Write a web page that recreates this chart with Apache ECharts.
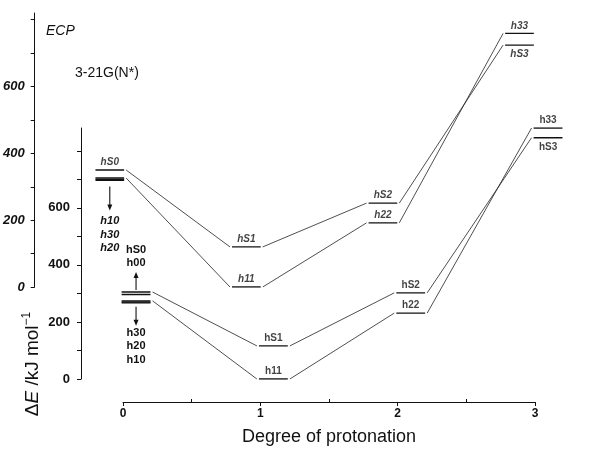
<!DOCTYPE html>
<html><head><meta charset="utf-8">
<script src="https://cdn.jsdelivr.net/npm/echarts@6/dist/echarts.min.js"></script>
<style>html,body{margin:0;padding:0;background:#fff}#c{width:599px;height:458px}</style>
</head><body><div id="c"></div>
<script>
// ---------- data ----------
const degrees = [0, 1, 2, 3];
const xTickValues = [0, 1, 2, 3];
const xMinorTickValues = [0.5, 1.5, 2.5];
const yTickValues = [0, 100, 200, 300, 400, 500, 600, 700, 800];
const yLabelValues = [0, 200, 400, 600];

// upper set: ECP
const ecpSNames = ['hS0', 'hS1', 'hS2', 'hS3'];
const ecpSValues = [350, 120, 251, 724];
const ecpHNames = ['h10', 'h11', 'h22', 'h33'];
const ecpHValues = [326, 0, 192, 759];
const ecpExtra0Names = ['h30', 'h20'];
const ecpExtra0Values = [322, 319];

// lower set: 3-21G(N*)
const basSNames = ['hS0', 'hS1', 'hS2', 'hS3'];
const basSValues = [305, 116, 302, 846];
const basHNames = ['h30', 'h11', 'h22', 'h33'];
const basHValues = [274, 0, 231, 880];
const basExtra0Names = ['h00', 'h20', 'h10'];
const basExtra0Values = [296, 270, 267];

// ---------- chart ----------
const FONT = '"Liberation Sans", Arial, Helvetica, sans-serif';
const INK = '#111';
const chart = echarts.init(document.getElementById('c'), null, {renderer: 'canvas'});

// x axis pixel layout: degree 0 at 123px, degree 3 at 535px; data grids are widened by PAD degrees
const X0 = 123, X3 = 535, PAD = 0.25;
const PXU = (X3 - X0) / 3;
const dataLeft = X0 - PAD * PXU, dataRight = 599 - (X3 + PAD * PXU);

const UP = {xi: 1, yi: 1, off: [-0.22, -0.01], italic: 'italic'};
const LO = {xi: 0, yi: 0, off: [-0.01, 0.20], italic: 'normal'};

const series = [];
function bar(set, d, v) {
  series.push({type: 'line', xAxisIndex: set.xi, yAxisIndex: set.yi, silent: true, animation: false,
    symbol: 'none', data: [[d + set.off[0], v], [d + set.off[1], v]],
    lineStyle: {color: INK, width: 1.4}});
}
function conn(set, d0, v0, d1, v1) {
  series.push({type: 'line', xAxisIndex: set.xi, yAxisIndex: set.yi, silent: true, animation: false,
    symbol: 'none', data: [[d0 + set.off[1] + 0.015, v0], [d1 + set.off[0] - 0.015, v1]],
    lineStyle: {color: '#222', width: 0.8}});
}
function chain(set, vals) {
  vals.forEach((v, i) => bar(set, degrees[i], v));
  for (let i = 0; i < vals.length - 1; i++) conn(set, degrees[i], vals[i], degrees[i + 1], vals[i + 1]);
}
chain(UP, ecpSValues); chain(UP, ecpHValues);
ecpExtra0Values.forEach(v => bar(UP, degrees[0], v));
chain(LO, basSValues); chain(LO, basHValues);
basExtra0Values.forEach(v => bar(LO, degrees[0], v));

function labelSeries(set, items) {
  series.push({type: 'scatter', xAxisIndex: set.xi, yAxisIndex: set.yi, silent: true, animation: false,
    symbolSize: 1, itemStyle: {color: 'transparent'},
    data: items.map(it => ({value: [it.d + (set.off[0] + set.off[1]) / 2, it.v], name: it.n,
      label: {show: true, position: it.p, distance: it.p === 'top' ? 2 : 4, formatter: '{b}',
        fontFamily: FONT, fontSize: 10, fontWeight: 'bold', fontStyle: set.italic, color: INK}}))});
}
const upItems = [], loItems = [];
const ecpSPos = ['top', 'top', 'top', 'bottom'];
const ecpHPos = [null, 'top', 'top', 'top'];
const basSPos = [null, 'top', 'top', 'bottom'];
const basHPos = [null, 'top', 'top', 'top'];
degrees.forEach((d, i) => {
  if (ecpSPos[i]) upItems.push({d, v: ecpSValues[i], n: ecpSNames[i], p: ecpSPos[i]});
  if (ecpHPos[i]) upItems.push({d, v: ecpHValues[i], n: ecpHNames[i], p: ecpHPos[i]});
  if (basSPos[i]) loItems.push({d, v: basSValues[i], n: basSNames[i], p: basSPos[i]});
  if (basHPos[i]) loItems.push({d, v: basHValues[i], n: basHNames[i], p: basHPos[i]});
});
labelSeries(UP, upItems); labelSeries(LO, loItems);

const axisLineStyle = {color: INK, width: 1};
function yAxis(grid, max, axisX, italic, margin) {
  return {type: 'value', gridIndex: grid, min: 0, max, offset: dataLeft - axisX, position: 'left',
    axisLine: {show: true, onZero: false, lineStyle: axisLineStyle},
    axisTick: {show: true, length: 4, customValues: yTickValues, lineStyle: axisLineStyle},
    axisLabel: {show: true, customValues: yLabelValues, margin, fontFamily: FONT, fontSize: 13,
      fontWeight: 'bold', fontStyle: italic, color: INK},
    splitLine: {show: false}};
}
function hiddenX(grid) {
  return {type: 'value', gridIndex: grid, min: -PAD, max: 3 + PAD, show: false};
}

const option = {
  animation: false,
  backgroundColor: '#fff',
  grid: [
    {left: dataLeft, right: dataRight, top: 128, bottom: 79},
    {left: dataLeft, right: dataRight, top: 13, bottom: 171},
    {left: X0, right: 599 - X3, top: 128, bottom: 79}
  ],
  xAxis: [
    hiddenX(0),
    hiddenX(1),
    {type: 'value', gridIndex: 2, min: 0, max: 3, position: 'bottom', offset: 23,
      axisLine: {show: true, onZero: false, lineStyle: axisLineStyle},
      axisTick: {show: true, length: 4, customValues: xTickValues, lineStyle: axisLineStyle},
      axisLabel: {show: true, customValues: xTickValues, margin: 6, fontFamily: FONT, fontSize: 12, fontWeight: 'bold', color: INK},
      splitLine: {show: false},
      name: 'Degree of protonation', nameLocation: 'middle', nameGap: 26,
      nameTextStyle: {fontFamily: FONT, fontSize: 18, color: INK}},
    {type: 'value', gridIndex: 2, min: 0, max: 3, position: 'bottom', offset: 23,
      axisLine: {show: false, onZero: false},
      axisTick: {show: true, inside: true, length: 3, customValues: xMinorTickValues, lineStyle: axisLineStyle},
      axisLabel: {show: false}, splitLine: {show: false}}
  ],
  yAxis: [
    yAxis(0, 880, 81, 'normal', 11),
    yAxis(1, 820, 32, 'italic', 10),
    {type: 'value', gridIndex: 2, min: 0, max: 880, show: false}
  ],
  series
};
chart.setOption(option);

// ---------- annotations (stacked labels with arrows at degree 0) ----------
const gfx = [];
function px(set, d, v) {
  return chart.convertToPixel({xAxisIndex: set.xi, yAxisIndex: set.yi}, [d + (set.off[0] + set.off[1]) / 2, v]);
}
function stack(set, v, dir, names, a0, a1, t0) {
  const [X, Y] = px(set, degrees[0], v);
  const ys = Y + dir * a0, ye = Y + dir * a1;
  gfx.push({type: 'line', shape: {x1: X, y1: ys, x2: X, y2: ye - dir * 5}, style: {stroke: INK, lineWidth: 1.1}, silent: true});
  gfx.push({type: 'polygon', shape: {points: [[X - 2.5, ye - dir * 6], [X + 2.5, ye - dir * 6], [X, ye]]}, style: {fill: INK}, silent: true});
  names.forEach((n, k) => {
    gfx.push({type: 'text', x: X, y: Y + dir * (t0 + k * 13.5), silent: true,
      style: {text: n, fontFamily: FONT, fontSize: 11, fontWeight: 'bold', fontStyle: set.italic, fill: INK,
        align: 'center', verticalAlign: 'middle'}});
  });
}
// upper: below the h10/h30/h20 group
stack(UP, Math.min(...ecpExtra0Values), 1, [ecpHNames[0], ...ecpExtra0Names], 6, 30, 41);
// lower: above (hS0, h00)
stack(LO, basSValues[0], -1, [basExtra0Names[0], basSNames[0]], 2, 20, 29);
// lower: below (h30, h20, h10)
stack(LO, Math.min(...basExtra0Values), 1, [basHNames[0], basExtra0Names[1], basExtra0Names[2]], 4, 23, 30);

gfx.push({type: 'text', x: 46, y: 31, silent: true,
  style: {text: 'ECP', fontFamily: FONT, fontSize: 14, fontStyle: 'italic', fill: INK, verticalAlign: 'middle'}});
gfx.push({type: 'text', x: 75, y: 73, silent: true,
  style: {text: '3-21G(N*)', fontFamily: FONT, fontSize: 14, fill: INK, verticalAlign: 'middle'}});
gfx.push({type: 'text', x: 33, y: 364, rotation: Math.PI / 2, silent: true,
  style: {text: '{n|Δ}{e|E}{n| /kJ mol}{s|−1}', align: 'center', verticalAlign: 'middle', fill: INK,
    rich: {
      n: {fontFamily: FONT, fontSize: 19, fill: INK, color: INK},
      e: {fontFamily: FONT, fontSize: 19, fontStyle: 'italic', fill: INK, color: INK},
      s: {fontFamily: FONT, fontSize: 12, fill: INK, color: INK, padding: [0, 0, 12, 0]}
    }}});
chart.setOption({graphic: gfx});
</script></body></html>
